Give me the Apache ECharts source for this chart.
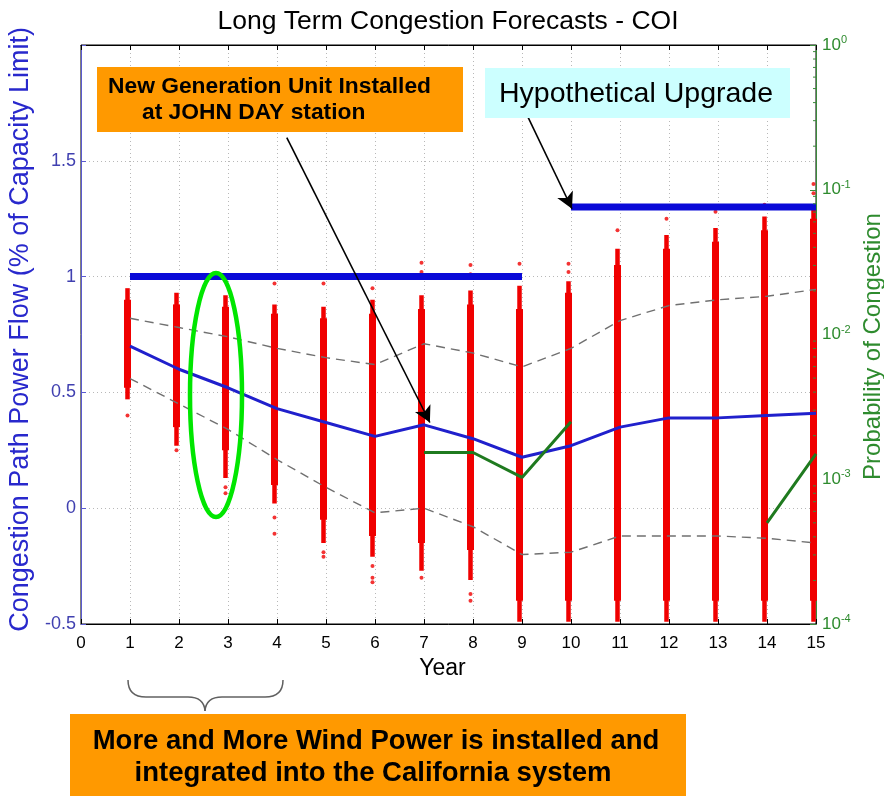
<!DOCTYPE html>
<html><head><meta charset="utf-8">
<script src="https://cdn.jsdelivr.net/npm/echarts@6/dist/echarts.min.js"></script>
<style>html,body{margin:0;padding:0;background:#fff;overflow:hidden;}#c{width:884px;height:796px;}</style>
</head><body><div id="c"></div>
<script>
// ---------------- data ----------------
const years = [1,2,3,4,5,6,7,8,9,10,11,12,13,14,15];
const xTicks = [0,1,2,3,4,5,6,7,8,9,10,11,12,13,14,15];
const medianFlow = [0.70,0.60,0.52,0.43,0.37,0.31,0.36,0.30,0.22,0.27,0.35,0.39,0.39,0.40,0.41];
const upperBand  = [0.82,0.78,0.74,0.69,0.65,0.62,0.71,0.67,0.61,0.69,0.81,0.875,0.90,0.915,0.945];
const lowerBand  = [0.56,0.45,0.34,0.21,0.09,-0.02,0.00,-0.08,-0.20,-0.19,-0.12,-0.12,-0.12,-0.13,-0.15];
const capacityLimit = [1,1,1,1,1,1,1,1,1,null,null,null,null,null,null];
const upgradedLimit = [null,null,null,null,null,null,null,null,null,1.3,1.3,1.3,1.3,1.3,1.3];
const probCongestion = [null,null,null,null,null,null,1.53e-3,1.53e-3,1.03e-3,2.5e-3,null,null,null,5.0e-4,1.5e-3];
// Monte-Carlo flow sample clouds per year (dense core, sparse tail, isolated points)
const cloudTailHi = [0.95,0.93,0.92,0.88,0.87,0.90,0.92,0.94,0.96,0.98,1.12,1.18,1.21,1.26,1.31];
const cloudCoreHi = [0.90,0.88,0.87,0.84,0.82,0.84,0.86,0.88,0.86,0.93,1.05,1.12,1.15,1.20,1.25];
const cloudCoreLo = [0.52,0.35,0.25,0.10,-0.05,-0.12,-0.15,-0.18,-0.40,-0.40,-0.40,-0.40,-0.40,-0.40,-0.40];
const cloudTailLo = [0.47,0.27,0.13,0.02,-0.15,-0.21,-0.27,-0.31,-0.49,-0.49,-0.49,-0.49,-0.49,-0.49,-0.49];
const outlierYears  = [1,2,3,3,4,4,4,5,5,5,6,6,6,6,7,7,7,8,8,8,8,9,10,10,11,12,13,14,15,15];
const outlierValues = [0.40,0.25,0.09,0.065,0.97,-0.04,-0.11,0.97,-0.19,-0.21,0.95,-0.25,-0.30,-0.32,1.06,1.02,-0.30,1.05,1.01,-0.37,-0.40,1.055,1.055,1.02,1.20,1.25,1.28,1.31,1.40,1.36];
const yTicksLeft = [-0.5,0,0.5,1,1.5];
const logMinorTicks = [2e-4,3e-4,4e-4,5e-4,6e-4,7e-4,8e-4,9e-4,
                       2e-3,3e-3,4e-3,5e-3,6e-3,7e-3,8e-3,9e-3,
                       2e-2,3e-2,4e-2,5e-2,6e-2,7e-2,8e-2,9e-2,
                       0.2,0.3,0.4,0.5,0.6,0.7,0.8,0.9];
// annotation arrows [x, y] in data units
const arrowGen = [[4.2,1.60],[7.12,0.37]];
const arrowUpg = [[9.12,1.69],[10.02,1.293]];

// ---------------- chart ----------------
const chart = echarts.init(document.getElementById('c'), null, {renderer:'canvas', width:884, height:796});
const FONT = '"Liberation Sans", Arial, Helvetica, sans-serif';
const RED = '#f00000';
const SHIFT = -2.5;

function cloudRenderer(w){
  return function(params, api){
    const x = api.value(0), lo = api.value(1), hi = api.value(2);
    const p1 = api.coord([x, hi]), p2 = api.coord([x, lo]);
    return {type:'rect', shape:{x:p1[0]-w/2+SHIFT, y:p1[1], width:w, height:p2[1]-p1[1]},
            style:{fill:RED}};
  };
}
const pair = (arr)=> years.map((y,i)=>[y, arr[i]]);
const braceStyle = {fill:'none', stroke:'#606060', lineWidth:1.5};

const option = {
  animation:false,
  backgroundColor:'#fff',
  title:{text:'Long Term Congestion Forecasts - COI', left:443, top:3, textAlign:'center',
    textStyle:{fontFamily:FONT, fontSize:26.5, fontWeight:'normal', color:'#000'}},
  grid:{left:81, right:68, top:45, bottom:172, show:true, borderColor:'#000', borderWidth:1,
    containLabel:false, outerBoundsMode:'none'},
  xAxis:[{
    type:'value', min:xTicks[0], max:xTicks[xTicks.length-1], interval:1, position:'bottom',
    axisLine:{show:true, onZero:false, lineStyle:{color:'#000'}},
    axisTick:{inside:true, length:5, lineStyle:{color:'#000'}},
    axisLabel:{color:'#000', fontSize:17, fontFamily:FONT, margin:11},
    splitLine:{show:true, lineStyle:{color:'#b8b8b8', type:[1,3], width:1}},
    name:'Year', nameLocation:'middle', nameGap:28,
    nameTextStyle:{fontSize:23, color:'#000', fontFamily:FONT, padding:[0,12,0,0]}
  },{
    type:'value', min:0, max:15, interval:1, position:'top',
    axisLine:{show:true, onZero:false, lineStyle:{color:'#000'}},
    axisTick:{inside:true, length:5, lineStyle:{color:'#000'}},
    axisLabel:{show:false}, splitLine:{show:false}
  }],
  yAxis:[{
    type:'value', min:-0.5, max:2, interval:0.5, position:'left',
    axisLine:{show:true, onZero:false, lineStyle:{color:'#5a5ad0'}},
    axisTick:{inside:true, length:5, lineStyle:{color:'#5a5ad0'}},
    axisLabel:{color:'#4040b0', fontSize:18, fontFamily:FONT, margin:5,
      formatter:(v)=> yTicksLeft.indexOf(v)>=0 ? String(v) : ''},
    splitLine:{show:true, lineStyle:{color:'#b8b8b8', type:[1,3], width:1}},
    name:'Congestion Path Power Flow (% of Capacity Limit)', nameLocation:'middle', nameGap:38, nameRotate:90,
    nameTextStyle:{fontSize:27, color:'#2828cc', fontFamily:FONT, padding:[0,0,0,10]}
  },{
    type:'log', logBase:10, min:1e-4, max:1, position:'right',
    axisLine:{show:true, onZero:false, lineStyle:{color:'#3a8a3a'}},
    axisTick:{inside:true, length:6, lineStyle:{color:'#3a8a3a'}},
    axisLabel:{margin:6, color:'#2e8b2e',
      formatter:(v)=>'{b|10}{s|'+Math.round(Math.log10(v))+'}',
      rich:{b:{fontSize:17, fontFamily:FONT, color:'#2e8b2e'},
            s:{fontSize:11, fontFamily:FONT, color:'#2e8b2e', padding:[0,0,10,0]}}},
    splitLine:{show:false},
    name:'Probability of Congestion', nameLocation:'middle', nameGap:38, nameRotate:90,
    nameTextStyle:{fontSize:24, color:'#2e8b2e', fontFamily:FONT, padding:[0,24,0,0]}
  }],
  series:[
    {type:'custom', name:'tail', xAxisIndex:0, yAxisIndex:0, renderItem:cloudRenderer(4.5),
     data: years.map((y,i)=>[y, cloudTailLo[i], cloudTailHi[i]]), encode:{x:0, y:[1,2]}, z:2, silent:true},
    {type:'custom', name:'core', xAxisIndex:0, yAxisIndex:0, renderItem:cloudRenderer(7),
     data: years.map((y,i)=>[y, cloudCoreLo[i], cloudCoreHi[i]]), encode:{x:0, y:[1,2]}, z:2, silent:true},
    {type:'scatter', name:'outliers', symbol:'circle', symbolSize:4, symbolOffset:[SHIFT,0],
     itemStyle:{color:RED}, data: outlierYears.map((y,i)=>[y, outlierValues[i]]), z:2, silent:true},
    {type:'custom', name:'logMinor', xAxisIndex:0, yAxisIndex:1, silent:true, z:5,
     data: logMinorTicks.map(v=>[15, v]), encode:{x:0, y:1},
     renderItem:function(params, api){
       const p = api.coord([api.value(0), api.value(1)]);
       return {type:'line', shape:{x1:p[0]-3, y1:p[1], x2:p[0], y2:p[1]}, style:{stroke:'#3a8a3a', lineWidth:1}};
     }},
    {type:'line', name:'capacity', data:pair(capacityLimit), showSymbol:false, connectNulls:false,
     lineStyle:{color:'#0a0ad8', width:7, cap:'butt'}, z:4, silent:true,
     markLine:{silent:true, symbol:['none','arrow'], symbolSize:[13,16], label:{show:false},
       lineStyle:{color:'#000', width:1.6, type:'solid'},
       data:[[{coord:arrowGen[0]},{coord:arrowGen[1]}],[{coord:arrowUpg[0]},{coord:arrowUpg[1]}]]}},
    {type:'line', name:'upgrade', data:pair(upgradedLimit), showSymbol:false, connectNulls:false,
     lineStyle:{color:'#0a0ad8', width:7, cap:'butt'}, z:4, silent:true},
    {type:'line', name:'upper', data:pair(upperBand), showSymbol:false,
     lineStyle:{color:'#707070', width:1.4, type:[9,6]}, z:3, silent:true},
    {type:'line', name:'lower', data:pair(lowerBand), showSymbol:false,
     lineStyle:{color:'#707070', width:1.4, type:[9,6]}, z:3, silent:true},
    {type:'line', name:'median', data:pair(medianFlow), showSymbol:false,
     lineStyle:{color:'#2020cc', width:3}, z:4, silent:true},
    {type:'line', name:'prob', yAxisIndex:1, data:pair(probCongestion), showSymbol:false, connectNulls:false,
     lineStyle:{color:'#1f7a1f', width:3}, z:4, silent:true}
  ],
  graphic:[
    {type:'ellipse', z:100, shape:{cx:216, cy:395, rx:26, ry:122},
     style:{fill:'none', stroke:'#00e600', lineWidth:4.5}},
    {type:'rect', z:100, shape:{x:97, y:67, width:366, height:65}, style:{fill:'#ff9900'}},
    {type:'text', z:101, style:{text:'New Generation Unit Installed', x:108, y:87, fill:'#000',
      font:'bold 22.8px '+FONT, textAlign:'left', textVerticalAlign:'middle', verticalAlign:'middle'}},
    {type:'text', z:101, style:{text:'at JOHN DAY station', x:142, y:113, fill:'#000',
      font:'bold 22.8px '+FONT, textAlign:'left', textVerticalAlign:'middle', verticalAlign:'middle'}},
    {type:'rect', z:100, shape:{x:485, y:68, width:305, height:50}, style:{fill:'#ccffff'}},
    {type:'text', z:101, style:{text:'Hypothetical Upgrade', x:636, y:94, fill:'#000',
      font:'28.5px '+FONT, textAlign:'center', textVerticalAlign:'middle', verticalAlign:'middle'}},
    {type:'bezierCurve', z:100, shape:{x1:128,y1:680,cpx1:128,cpy1:697,x2:146,y2:697}, style:braceStyle},
    {type:'line', z:100, shape:{x1:146,y1:697,x2:188,y2:697}, style:braceStyle},
    {type:'bezierCurve', z:100, shape:{x1:188,y1:697,cpx1:204,cpy1:697,x2:205,y2:711}, style:braceStyle},
    {type:'bezierCurve', z:100, shape:{x1:205,y1:711,cpx1:206,cpy1:697,x2:222,y2:697}, style:braceStyle},
    {type:'line', z:100, shape:{x1:222,y1:697,x2:265,y2:697}, style:braceStyle},
    {type:'bezierCurve', z:100, shape:{x1:265,y1:697,cpx1:283,cpy1:697,x2:283,y2:680}, style:braceStyle},
    {type:'rect', z:100, shape:{x:70, y:714, width:616, height:82}, style:{fill:'#ff9900'}},
    {type:'text', z:101, style:{text:'More and More Wind Power is installed and', x:376, y:741, fill:'#000',
      font:'bold 27.5px '+FONT, textAlign:'center', textVerticalAlign:'middle', verticalAlign:'middle'}},
    {type:'text', z:101, style:{text:'integrated into the California system', x:373, y:773, fill:'#000',
      font:'bold 27.5px '+FONT, textAlign:'center', textVerticalAlign:'middle', verticalAlign:'middle'}}
  ]
};
chart.setOption(option);
</script>
</body></html>
